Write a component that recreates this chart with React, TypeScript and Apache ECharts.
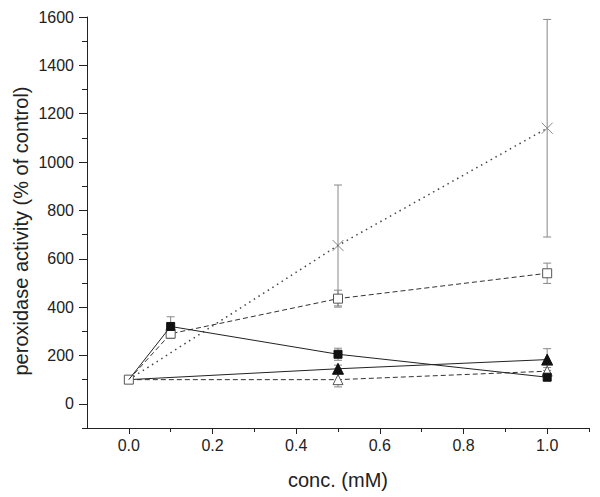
import React, { useEffect, useRef } from "react";
import * as echarts from "echarts";

const concFull = [0, 0.1, 0.5, 1.0];
const concShort = [0, 0.5, 1.0];

const filledSquare = [100, 320, 205, 110];
const filledSquareErr = [0, 40, 25, 12];
const openSquare = [100, 290, 435, 540];
const openSquareErr = [0, 20, 35, 42];
const filledTriangle = [100, 145, 183];
const filledTriangleErr = [0, 15, 45];
const openTriangle = [100, 100, 135];
const openTriangleErr = [0, 30, 15];
const cross = [100, 655, 1140];
const crossErr = [0, 250, 450];

const xMajor = [0, 0.2, 0.4, 0.6, 0.8, 1.0];
const xMinor = [0.1, 0.3, 0.5, 0.7, 0.9, 1.1];
const yMajor = [0, 200, 400, 600, 800, 1000, 1200, 1400, 1600];
const yMinor = [-100, 100, 300, 500, 700, 900, 1100, 1300, 1500];

const yTitle = "peroxidase activity (% of control)";
const xTitle = "conc. (mM)";

const FONT = "'Liberation Sans', Arial, sans-serif";

function pts(xs: number[], ys: number[], hideFirst: boolean) {
  return xs.map((x, i) =>
    i === 0 && hideFirst ? { value: [x, ys[i]], symbol: "none" } : { value: [x, ys[i]] }
  );
}

function errs(xs: number[], ys: number[], es: number[]) {
  const out: number[][] = [];
  xs.forEach((x, i) => {
    if (es[i] > 0) out.push([x, ys[i], es[i]]);
  });
  return out;
}

export default function App() {
  const ref = useRef<HTMLDivElement>(null);
  useEffect(() => {
    if (!ref.current) return;
    const chart = echarts.init(ref.current, null, { renderer: "svg" });
    const errData = [
      ...errs(concFull, filledSquare, filledSquareErr),
      ...errs(concFull, openSquare, openSquareErr),
      ...errs(concShort, filledTriangle, filledTriangleErr),
      ...errs(concShort, openTriangle, openTriangleErr),
      ...errs(concShort, cross, crossErr),
    ];
    const axisLine = { show: true, onZero: false, lineStyle: { color: "#222", width: 1 } };
    chart.setOption({
      animation: false,
      backgroundColor: "#fff",
      grid: { left: 87, right: 11, top: 17, bottom: 69 },
      graphic: [
        {
          type: "text",
          x: 21,
          y: 231,
          rotation: Math.PI / 2,
          style: {
            text: yTitle,
            fontFamily: FONT,
            fontSize: 20,
            fill: "#222",
            align: "center",
            verticalAlign: "middle",
          },
        },
      ],
      xAxis: [
        {
          type: "value",
          min: -0.1,
          max: 1.1,
          position: "bottom",
          axisLine,
          splitLine: { show: false },
          axisTick: { show: true, length: 6, customValues: xMajor, lineStyle: { color: "#222" } },
          axisLabel: {
            customValues: xMajor,
            formatter: (v: number) => v.toFixed(1),
            fontFamily: FONT,
            fontSize: 16,
            color: "#222",
            margin: 9,
          },
          name: xTitle,
          nameLocation: "middle",
          nameGap: 42,
          nameTextStyle: { fontFamily: FONT, fontSize: 20, color: "#222" },
        },
        {
          type: "value",
          min: -0.1,
          max: 1.1,
          position: "bottom",
          axisLine: { show: false, onZero: false },
          splitLine: { show: false },
          axisTick: { show: true, length: 4, customValues: xMinor, lineStyle: { color: "#222" } },
          axisLabel: { show: false },
        },
      ],
      yAxis: [
        {
          type: "value",
          min: -100,
          max: 1600,
          position: "left",
          axisLine,
          splitLine: { show: false },
          axisTick: { show: true, length: 8, customValues: yMajor, lineStyle: { color: "#222" } },
          axisLabel: {
            customValues: yMajor,
            formatter: (v: number) => String(v),
            fontFamily: FONT,
            fontSize: 16,
            color: "#222",
            margin: 13,
          },
        },
        {
          type: "value",
          min: -100,
          max: 1600,
          position: "left",
          axisLine: { show: false, onZero: false },
          splitLine: { show: false },
          axisTick: { show: true, length: 5, customValues: yMinor, lineStyle: { color: "#222" } },
          axisLabel: { show: false },
        },
      ],
      series: [
        {
          type: "custom",
          z: 1,
          xAxisIndex: 0,
          yAxisIndex: 0,
          data: errData,
          renderItem: (params: any, api: any) => {
            const x = api.value(0);
            const y = api.value(1);
            const e = api.value(2);
            const t = api.coord([x, y + e]);
            const b = api.coord([x, y - e]);
            const st = { stroke: "#888", lineWidth: 1 };
            return {
              type: "group",
              children: [
                { type: "line", shape: { x1: t[0], y1: t[1], x2: b[0], y2: b[1] }, style: st },
                { type: "line", shape: { x1: t[0] - 4, y1: t[1], x2: t[0] + 4, y2: t[1] }, style: st },
                { type: "line", shape: { x1: b[0] - 4, y1: b[1], x2: b[0] + 4, y2: b[1] }, style: st },
              ],
            };
          },
        },
        {
          type: "line",
          z: 3,
          data: pts(concShort, cross, true),
          lineStyle: { color: "#444", width: 1.5, type: [1.5, 4] },
          symbol: "path://M0,0L10,10M10,0L0,10",
          symbolSize: 11,
          itemStyle: { color: "none", borderColor: "#888", borderWidth: 1 },
        },
        {
          type: "line",
          z: 3,
          data: pts(concShort, openTriangle, true),
          lineStyle: { color: "#333", width: 1, type: [5, 3] },
          symbol: "triangle",
          symbolSize: 10,
          itemStyle: { color: "#fff", borderColor: "#555", borderWidth: 1 },
        },
        {
          type: "line",
          z: 3,
          data: pts(concShort, filledTriangle, true),
          lineStyle: { color: "#222", width: 1 },
          symbol: "triangle",
          symbolSize: 11,
          itemStyle: { color: "#111", borderColor: "#111", borderWidth: 1 },
        },
        {
          type: "line",
          z: 4,
          data: pts(concFull, openSquare, false),
          lineStyle: { color: "#333", width: 1, type: [5, 3] },
          symbol: "rect",
          symbolSize: 9,
          itemStyle: { color: "#fff", borderColor: "#555", borderWidth: 1 },
        },
        {
          type: "line",
          z: 5,
          data: pts(concFull, filledSquare, true),
          lineStyle: { color: "#222", width: 1 },
          symbol: "rect",
          symbolSize: 8,
          itemStyle: { color: "#111", borderColor: "#111", borderWidth: 1 },
        },
      ],
    });
    return () => chart.dispose();
  }, []);
  return (
    <div
      ref={ref}
      style={{ position: "fixed", left: 0, top: 0, width: 600, height: 497 }}
    />
  );
}
